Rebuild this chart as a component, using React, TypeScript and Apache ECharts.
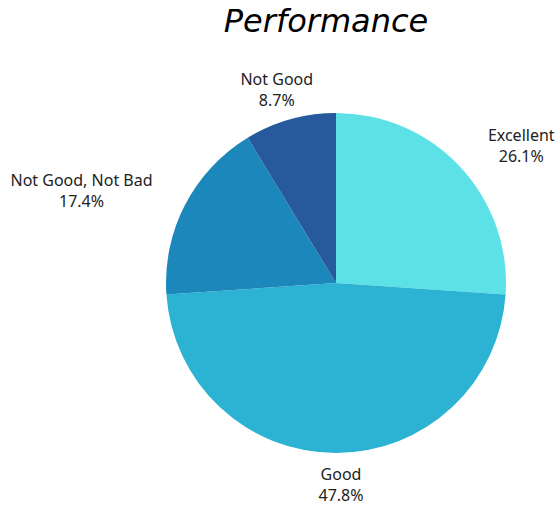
import React, { useEffect, useRef } from "react";
import * as echarts from "echarts";

const categories = ["Excellent", "Good", "Not Good, Not Bad", "Not Good"];
const values = [6, 11, 4, 2];
const colors = ["#5CE1E6", "#2CB3D4", "#1B87BA", "#265A9C"];
const titleText = "Performance";

export default function App() {
  const ref = useRef<HTMLDivElement>(null);
  useEffect(() => {
    if (!ref.current) return;
    const chart = echarts.init(ref.current, null, { renderer: "svg" });
    const total = values.reduce((a, b) => a + b, 0);
    const midSin: number[] = [];
    let acc = 0;
    values.forEach((v) => {
      const mid = ((acc + v / 2) / total) * Math.PI * 2;
      midSin.push(Math.sin(mid));
      acc += v;
    });
    chart.setOption({
      animation: false,
      backgroundColor: "#ffffff",
      title: {
        text: titleText,
        left: 321,
        top: 0,
        textAlign: "center",
        textStyle: {
          fontFamily: "DejaVu Sans",
          fontStyle: "italic",
          fontWeight: "normal",
          fontSize: 32,
          color: "#000000",
        },
      },
      series: [
        {
          type: "pie",
          center: [336, 283],
          radius: [0, 170],
          startAngle: 90,
          clockwise: true,
          data: categories.map((name, i) => ({
            name,
            value: values[i],
            itemStyle: { color: colors[i] },
          })),
          label: {
            show: true,
            position: "outside",
            overflow: "none",
            formatter: (p: any) => `${p.name}\n${p.percent.toFixed(1)}%`,
            fontFamily: "Noto Sans",
            fontSize: 16,
            lineHeight: 21,
            color: "#222222",
          },
          labelLine: { show: false, length: 31, length2: 0 },
          labelLayout: (params: any) => {
            const r = params.labelRect;
            const centered = Math.abs(midSin[params.dataIndex]) < 0.4;
            let x: number;
            if (centered) {
              x = params.align === "left" ? r.x : r.x + r.width;
            } else {
              x = r.x + r.width / 2;
            }
            return { x, align: "center" };
          },
          emphasis: { disabled: true },
        },
      ],
    });
    return () => chart.dispose();
  }, []);
  return (
    <div
      ref={ref}
      style={{ position: "fixed", left: 0, top: 0, width: 555, height: 506 }}
    />
  );
}
